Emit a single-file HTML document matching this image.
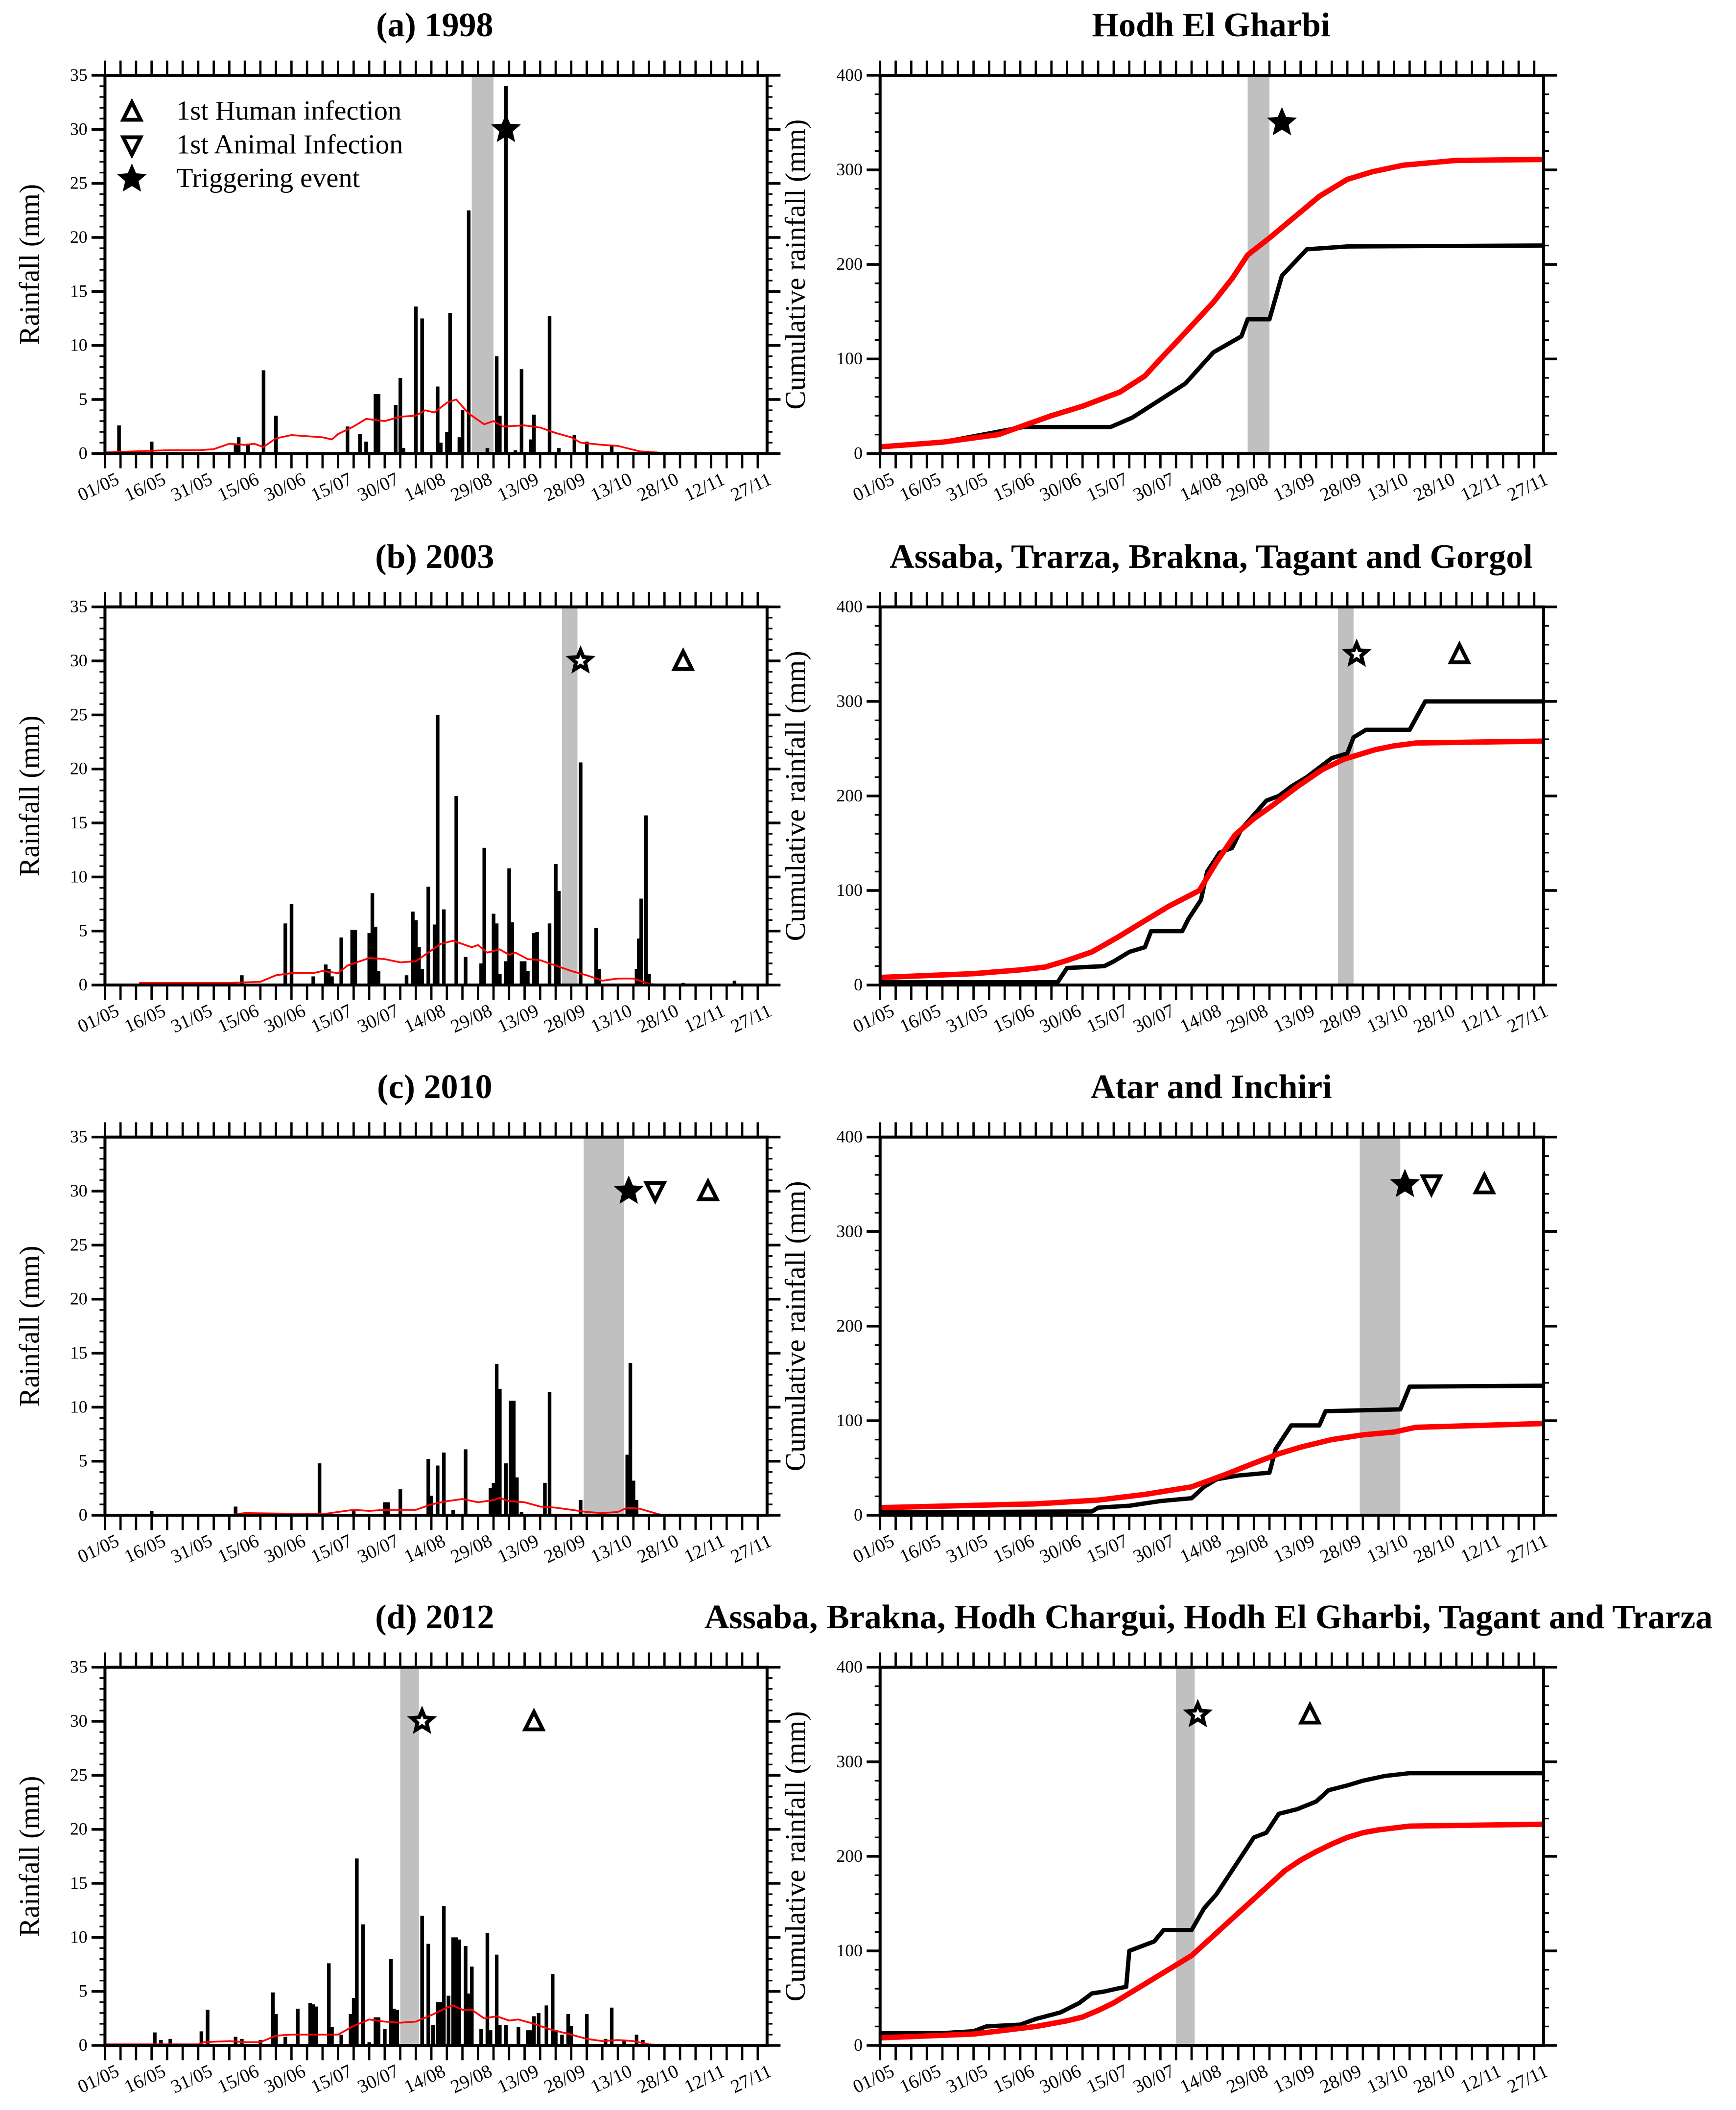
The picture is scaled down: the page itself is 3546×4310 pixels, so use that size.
<!DOCTYPE html>
<html><head><meta charset="utf-8"><style>
html,body{margin:0;padding:0;background:#fff;}
svg{display:block;}
text{font-family:"Liberation Serif",serif;fill:#000;}
</style></head><body>
<svg id="fig" xmlns="http://www.w3.org/2000/svg" width="3546" height="4310" viewBox="0 0 1290 1568" preserveAspectRatio="none"></svg>
<script>
// ---------- DATA ----------
const dateLabels=["01/05","16/05","31/05","15/06","30/06","15/07","30/07","14/08","29/08","13/09","28/09","13/10","28/10","12/11","27/11"];
const leftTicks=[0,5,10,15,20,25,30,35];
const rightTicks=[0,100,200,300,400];
const panelTitlesLeft=["(a) 1998","(b) 2003","(c) 2010","(d) 2012"];
const panelTitlesRight=["Hodh El Gharbi","Assaba, Trarza, Brakna, Tagant and Gorgol","Atar and Inchiri","Assaba, Brakna, Hodh Chargui, Hodh El Gharbi, Tagant and Trarza"];

// (a) 1998
const aBarDays=[4.5,15,42,43,46,51,55,78,82,84,87,88,93.5,95,96,100,102,107,108,110,111,114,115,117,123,126,127,129,132,134,137,138,143,146,151,155,163];
const aBarMm=[2.6,1.1,0.8,1.5,0.9,7.7,3.5,2.5,1.8,1.1,5.5,5.5,4.5,7,0.5,13.6,12.5,6.2,1,2,13,1.5,4,22.5,0.5,9,3.5,34,0.3,7.8,1.3,3.6,12.7,0.5,1.7,1.1,0.8];
const aClimDays=[0,10,20,30,35,40,45,48,51,55,60,70,73,75,80,84,90,95,100,103,106,110,113,117,122,125,128,135,140,145,150,153,160,165,172,180,213];
const aClimMm=[0.1,0.2,0.3,0.3,0.4,0.9,0.8,0.9,0.6,1.4,1.7,1.5,1.3,1.8,2.5,3.2,3.0,3.4,3.5,4.0,3.8,4.7,5.0,3.7,2.7,3.0,2.5,2.6,2.4,1.9,1.5,1.0,0.8,0.7,0.2,0.05,0];
const aCumDays=[0,20,46,74,81,90,98,107,116,118,125,129,133,137,150,213];
const aCumObs=[7,12,28,28,38,57,74,107,124,142,142,188,202,216,219,220];
const aCumClimDays=[0,20,38,55,65,77,85,90,98,107,113,118,125,133,141,150,158,168,185,213];
const aCumClim=[7,12,20,40,50,65,82,100,128,160,185,210,228,250,272,290,298,305,310,311];
const aBand=[118,125];
const aStar=[129];const aDown=[];const aUp=[];

// (b) 2003
const bBarDays=[44,58,60,67,71,72,73,76,79.5,80.5,85,86,87,88,97,99,100,101,102,104,106,107,109,113,116,121,122,125,126,127,129,130,131,134,135,136,138,139,143,145,146,153,158,159,171,171.7,172.5,174,175,186,202.5];
const bBarMm=[0.9,5.7,7.5,0.8,1.9,1.5,0.8,4.4,5.1,5.1,4.8,8.5,5.4,1.3,0.9,6.8,6,3.5,1.5,9.1,5.6,25,7,17.5,2.6,2,12.7,6.6,5.7,1,2.2,10.8,5.8,2.2,2.2,1.3,4.8,4.9,5.7,11.2,8.7,20.6,5.3,1.5,1.5,4.3,8,15.7,1,0.2,0.4];
const bClimDays=[11,40,50,55,60,67,70,75,78,85,90,95,100,104,108,112,116,118,120,123,127,130,132,136,140,145,150,155,160,165,170,175,180];
const bClimMm=[0.2,0.2,0.3,0.9,1.1,1.1,1.3,1.1,1.8,2.5,2.4,2.1,2.2,3.0,3.8,4.1,3.7,3.5,3.7,3.0,3.3,2.8,3.0,2.4,2.3,1.8,1.3,0.9,0.4,0.6,0.6,0.1,0];
const bCumDays=[0,57,60,72,75,80,85,87,97,99,103,105,109,113,116,120,124,128,132,137,145,150,152,156,170,175,213];
const bCumObs=[3,3,18,20,25,35,40,57,57,70,90,120,140,145,165,180,195,200,210,220,240,245,262,270,270,300,300];
const bCumClimDays=[0,30,45,53,60,68,76,84,92.5,102.5,108,114,120,126,134,142,149,155,159,165,172,213];
const bCumClim=[8,12,16,19,26,35,50,66,83,100,130,159,176,190,210,228,239,245,249,253,256,258];
const bBand=[147,152];
const bStar=[153];const bDown=[];const bUp=[186];

// (c) 2010
const cBarDays=[15,42,69,80,90,91,95,104,105,107,109,112,116,124,125,126,127,129,130.5,131.5,132.5,134,141.5,143,153,168,169,170,171];
const cBarMm=[0.4,0.8,4.8,0.5,1.2,1.2,2.4,5.2,1.8,4.6,5.8,0.5,6.1,2.5,3,14,11.7,4.8,10.6,10.6,3.5,0.3,3,11.4,1.4,5.6,14.1,3.2,1.4];
const cClimDays=[0,40,45,70,80,85,90,100,105,110,115,120,125,127,130,135,140,145,150,155,160,165,168,172,178,180,213];
const cClimMm=[0,0,0.2,0.1,0.5,0.4,0.5,0.5,1.0,1.3,1.5,1.2,1.4,1.6,1.3,1.2,0.8,0.7,0.5,0.3,0.2,0.3,0.7,0.6,0.1,0,0];
const cCumDays=[0,68,70,80,90,100,104,108,115,125,127,132,141,143,167,170,213];
const cCumObs=[3,4,8,10,15,18,30,38,42,45,70,95,95,110,112,136,137];
const cCumClimDays=[0,50,70,85,100,110,120,128,135,145,155,165,172,213];
const cCumClim=[8,12,16,22,30,42,55,65,72,80,85,88,93,97];
const cBand=[154,167];
const cStar=[168.5];const cDown=[177];const cUp=[194];

// (d) 2012
const dBarDays=[16,18,21,31,33,42,44,50,54,55,58,62,66,67,68,72,73,76,79,80,81,83,85,87,88,90,92,93,94,102,104,105.5,107,108,109,110.5,112,113,114,116,117,118,121,123,124,126,127,129,133,136,137,138,139.5,142,144,145,147,149,150,155,161,163,167,171,173];
const dBarMm=[1.2,0.5,0.6,1.3,3.3,0.8,0.6,0.5,4.9,2.9,0.8,3.4,3.9,3.8,3.6,7.6,1.7,1,2.9,4.4,17.3,11.2,0.3,2.6,2.6,1.5,8,3.4,3.3,12,9.4,1.9,4,4,12.9,4.6,10,10,9.8,9.2,4.8,7.3,1.5,10.4,1.4,8.4,1.9,1.9,1.7,1.4,1.4,2.7,3,3.7,6.6,1.4,1,2.9,1.8,2.9,0.6,3.5,0.5,1,0.5];
const dClimDays=[0,30,32,40,45,50,55,60,70,75,80,85,90,95,100,105,110,112,115,118,122,126,130,133,138,143,150,155,160,165,170,175,180,213];
const dClimMm=[0.1,0.1,0.3,0.4,0.3,0.3,0.9,1.0,1.0,1.0,1.8,2.4,2.2,2.1,2.2,2.8,3.5,3.7,3.3,3.3,2.5,2.7,2.3,2.4,2.0,1.5,1.0,0.6,0.4,0.5,0.4,0.1,0,0];
const dCumDays=[0,20,30,34,45,50,58,64,68,72,76,79,80,88,91,100,104,108,112,116,120,124,128,134,140,144,150,155,162,170,213];
const dCumObs=[13,13,15,20,22,28,35,45,55,57,60,62,100,110,122,122,145,160,180,200,220,225,245,250,258,270,275,280,285,288,288];
const dCumClimDays=[0,30,50,60,65,70,75,80,85,90,95,100,105,110,115,120,125,130,135,140,145,150,155,160,170,213];
const dCumClim=[8,12,20,26,30,37,45,55,65,75,85,95,110,125,140,155,170,185,196,205,213,220,225,228,232,234];
const dBand=[95,101];
const dStar=[102];const dDown=[];const dUp=[138];

// ---------- DRAWING ----------
const NS='http://www.w3.org/2000/svg';
const svg=document.getElementById('fig');
function mk(tag,parent){const e=document.createElementNS(NS,tag);parent.appendChild(e);return e;}
const LX0=78,LX1=570,RX0=654,RX1=1147,H=281,DAYS=213;
const TOPS=[56,451,845,1239];

function xScale(x0,x1){return d=>x0+(x1-x0)*d/DAYS;}
function yScale(top,max){return v=>top+H-H*v/max;}

function drawFrame(g,x0,x1,top,max,major,minor,ticks){
  const bot=top+H;
  const sx=xScale(x0,x1);
  for(let d=0;d<=210;d+=5){
    const X=sx(d);
    const t1=mk('line',g);t1.setAttribute('x1',X);t1.setAttribute('x2',X);t1.setAttribute('y1',top);t1.setAttribute('y2',top-11);t1.setAttribute('stroke','#000');t1.setAttribute('stroke-width','1.7');
    
    
    const t2=mk('line',g);t2.setAttribute('x1',X);t2.setAttribute('x2',X);t2.setAttribute('y1',bot);t2.setAttribute('y2',bot+11);t2.setAttribute('stroke','#000');t2.setAttribute('stroke-width','1.7');
    
    
  }
  dateLabels.forEach((lab,i)=>{
    const X=sx(i*15);
    const t=mk('text',g);t.textContent=lab;
    t.setAttribute('x',X-3);t.setAttribute('y',bot+29);t.setAttribute('font-size','14');t.setAttribute('text-anchor','middle');
    t.setAttribute('transform','rotate(-25 '+(X-3)+' '+(bot+29)+')');
    
    
  });
  const sy=yScale(top,max);
  for(let v=0;v<=max;v+=minor){
    const isMaj=Math.abs(v/major-Math.round(v/major))<1e-6;
    const L=isMaj?10:4;
    const a=mk('line',g);a.setAttribute('x1',x0);a.setAttribute('x2',x0-L);a.setAttribute('y1',sy(v));a.setAttribute('y2',sy(v));a.setAttribute('stroke','#000');a.setAttribute('stroke-width',isMaj?'2':'1.2');
    
    
    const b=mk('line',g);b.setAttribute('x1',x1);b.setAttribute('x2',x1+L);b.setAttribute('y1',sy(v));b.setAttribute('y2',sy(v));b.setAttribute('stroke','#000');b.setAttribute('stroke-width',isMaj?'2':'1.2');
    
    
  }
  ticks.forEach(v=>{
    const t=mk('text',g);t.textContent=v;
    t.setAttribute('x',x0-13);t.setAttribute('y',sy(v)+4);t.setAttribute('font-size','13');t.setAttribute('text-anchor','end');
    
    
  });
  const r=mk('rect',g);r.setAttribute('x',x0);r.setAttribute('y',top);r.setAttribute('width',x1-x0);r.setAttribute('height',H);r.setAttribute('fill','none');r.setAttribute('stroke','#000');r.setAttribute('stroke-width','2.2');
  
  
}

function band(g,x0,x1,top,b){
  const sx=xScale(x0,x1);
  const r=mk('rect',g);r.setAttribute('x',sx(b[0]));r.setAttribute('y',top);r.setAttribute('width',sx(b[1])-sx(b[0]));r.setAttribute('height',H);r.setAttribute('fill','#c0c0c0');
  
  
}

function poly(g,xs,ys,sx,sy,color,w,name){
  const p=mk('polyline',g);
  p.setAttribute('points',xs.map((d,i)=>sx(d).toFixed(2)+','+sy(ys[i]).toFixed(2)).join(' '));
  p.setAttribute('fill','none');p.setAttribute('stroke',color);p.setAttribute('stroke-width',w);p.setAttribute('stroke-linejoin','round');
  
  
}

function starPath(cx,cy,R){
  let s='';for(let i=0;i<10;i++){const r=i%2?R*0.45:R;const a=-Math.PI/2+i*Math.PI/5;s+=(i?'L':'M')+(cx+r*Math.cos(a)).toFixed(2)+','+(cy+r*Math.sin(a)).toFixed(2);}return s+'Z';
}
function marker(g,type,cx,cy,filled){
  let e;
  if(type==='star'){e=mk('path',g);e.setAttribute('d',starPath(cx,cy,8));e.setAttribute('fill',filled?'#000':'#fff');e.setAttribute('stroke','#000');e.setAttribute('stroke-width','2.8');e.setAttribute('stroke-linejoin','miter');
    
    }
  else if(type==='up'){e=mk('path',g);e.setAttribute('d',`M${cx},${cy-7}L${cx+6.5},${cy+6}L${cx-6.5},${cy+6}Z`);e.setAttribute('fill','none');e.setAttribute('stroke','#000');e.setAttribute('stroke-width','2.8');
    
    }
  else {e=mk('path',g);e.setAttribute('d',`M${cx},${cy+7}L${cx+6.5},${cy-6}L${cx-6.5},${cy-6}Z`);e.setAttribute('fill','none');e.setAttribute('stroke','#000');e.setAttribute('stroke-width','2.8');
    
    }
}

function title(g,txt,x,y){
  const t=mk('text',g);t.textContent=txt;t.setAttribute('x',x);t.setAttribute('y',y);t.setAttribute('font-size','25.5');t.setAttribute('font-weight','bold');t.setAttribute('text-anchor','middle');
  
  
}
function vlabel(g,txt,x,cy){
  const t=mk('text',g);t.textContent=txt;t.setAttribute('x',x);t.setAttribute('y',cy);t.setAttribute('font-size','21');t.setAttribute('text-anchor','middle');
  t.setAttribute('transform','rotate(-90 '+x+' '+cy+')');
  
  
}

const P=[
 {bd:aBarDays,bm:aBarMm,cd:aClimDays,cm:aClimMm,od:aCumDays,ov:aCumObs,kd:aCumClimDays,kv:aCumClim,band:aBand,star:aStar,down:aDown,up:aUp,filled:true},
 {bd:bBarDays,bm:bBarMm,cd:bClimDays,cm:bClimMm,od:bCumDays,ov:bCumObs,kd:bCumClimDays,kv:bCumClim,band:bBand,star:bStar,down:bDown,up:bUp,filled:false},
 {bd:cBarDays,bm:cBarMm,cd:cClimDays,cm:cClimMm,od:cCumDays,ov:cCumObs,kd:cCumClimDays,kv:cCumClim,band:cBand,star:cStar,down:cDown,up:cUp,filled:true},
 {bd:dBarDays,bm:dBarMm,cd:dClimDays,cm:dClimMm,od:dCumDays,ov:dCumObs,kd:dCumClimDays,kv:dCumClim,band:dBand,star:dStar,down:dDown,up:dUp,filled:false}
];

P.forEach((p,i)=>{
  const top=TOPS[i];
  const gl=mk('g',svg);
  
  
  band(gl,LX0,LX1,top,p.band);
  const sx=xScale(LX0,LX1), sy=yScale(top,35);
  p.bd.forEach((d,j)=>{
    const r=mk('rect',gl);r.setAttribute('x',sx(d)-1.3);r.setAttribute('width',2.7);r.setAttribute('y',sy(p.bm[j]));r.setAttribute('height',top+H-sy(p.bm[j]));r.setAttribute('fill','#000');
    
    
  });
  poly(gl,p.cd,p.cm,sx,sy,'#ff0000',1.3,'climatology-line');
  p.star.forEach(d=>marker(gl,'star',sx(d),sy(30),p.filled));
  p.down.forEach(d=>marker(gl,'down',sx(d),sy(30)));
  p.up.forEach(d=>marker(gl,'up',sx(d),sy(30)));
  drawFrame(gl,LX0,LX1,top,35,5,1,leftTicks);
  title(gl,panelTitlesLeft[i],323,top-29);
  vlabel(gl,'Rainfall (mm)',29,top+H/2);
  vlabel(gl,'Cumulative rainfall (mm)',598,top+H/2);
  const gr=mk('g',svg);
  
  
  band(gr,RX0,RX1,top,p.band);
  const rx=xScale(RX0,RX1), ry=yScale(top,400);
  poly(gr,p.od,p.ov,rx,ry,'#000',3.2,'observed-cumulative-line');
  poly(gr,p.kd,p.kv,rx,ry,'#ff0000',4,'climatology-cumulative-line');
  p.star.forEach(d=>marker(gr,'star',rx(d),ry(350),p.filled));
  p.down.forEach(d=>marker(gr,'down',rx(d),ry(350)));
  p.up.forEach(d=>marker(gr,'up',rx(d),ry(350)));
  drawFrame(gr,RX0,RX1,top,400,100,20,rightTicks);
  title(gr,panelTitlesRight[i],i===3?898:900,top-29);
});

const lg=mk('g',svg);


marker(lg,'up',98,83);marker(lg,'down',98,108);marker(lg,'star',98,133,true);
[["1st Human infection",89],["1st Animal Infection",114],["Triggering event",139]].forEach(([s,y])=>{
  const t=mk('text',lg);t.textContent=s;t.setAttribute('x',131);t.setAttribute('y',y);t.setAttribute('font-size','20.5');
  
  
});
</script>
</body></html>
